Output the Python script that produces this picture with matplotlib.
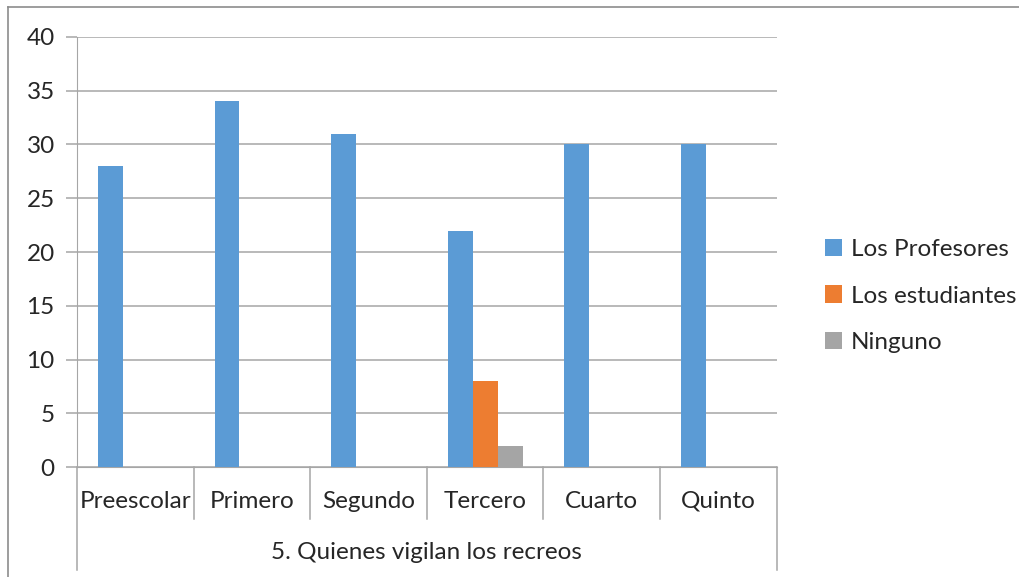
import numpy as np
import matplotlib.pyplot as plt
from matplotlib.lines import Line2D

categorias = ['Preescolar', 'Primero', 'Segundo', 'Tercero', 'Cuarto', 'Quinto']
profesores = [28, 34, 31, 22, 30, 30]
estudiantes = [0, 0, 0, 8, 0, 0]
ninguno = [0, 0, 0, 2, 0, 0]
series = ['Los Profesores', 'Los estudiantes', 'Ninguno']
colores = ['#5B9BD5', '#ED7D31', '#A5A5A5']
titulo_grupo = '5. Quienes vigilan los recreos'
yticks = [0, 5, 10, 15, 20, 25, 30, 35, 40]

plt.rcParams['font.family'] = ['Lato', 'DejaVu Sans']
fs = 17.5
gris = '#A6A6A6'

fig = plt.figure(figsize=(10.2, 5.77), dpi=100)
ax = fig.add_axes([0.0755, 0.1906, 0.686, 0.7453])

x = np.arange(len(categorias))
w = 0.214
for i, (vals, nom, col) in enumerate(zip([profesores, estudiantes, ninguno], series, colores)):
    ax.bar(x + (i - 1) * w, vals, w, color=col, label=nom, zorder=3)

ax.set_xlim(-0.5, len(categorias) - 0.5)
ax.set_ylim(0, 40)
ax.set_yticks(yticks)
ax.yaxis.grid(True, color=gris, linewidth=1.1)
ax.set_axisbelow(True)
for s in ['top', 'right']:
    ax.spines[s].set_visible(False)
ax.spines['left'].set_color(gris)
ax.spines['bottom'].set_color(gris)
ax.tick_params(axis='y', length=8, width=1.1, color=gris, labelsize=fs, pad=8, labelcolor='#262626')
ax.set_xticks([])

# etiquetas de categoria y lineas separadoras
tr = ax.get_xaxis_transform()
for i, c in enumerate(categorias):
    ax.text(i, -0.08, c, transform=tr, ha='center', va='center', fontsize=fs, color='#262626')
for b in np.arange(0.5, len(categorias) - 0.5):
    ax.plot([b, b], [0, -0.121], transform=tr, color=gris, lw=1.1, clip_on=False)
for b in [-0.5, len(categorias) - 0.5]:
    ax.plot([b, b], [0, -0.24], transform=tr, color=gris, lw=1.1, clip_on=False)
ax.text((len(categorias) - 1) / 2, -0.198, titulo_grupo, transform=tr, ha='center', va='center',
        fontsize=fs, color='#262626')

leg = ax.legend(loc='center left', bbox_to_anchor=(0.809, 0.487), bbox_transform=fig.transFigure,
                frameon=False, fontsize=fs, handlelength=0.7, handleheight=0.7,
                handletextpad=0.35, labelspacing=1.05, borderaxespad=0, borderpad=0)
for t in leg.get_texts():
    t.set_color('#262626')

# borde exterior del grafico
fig.add_artist(Line2D([8 / 1020, 1], [1 - 7 / 577, 1 - 7 / 577], color='#8C8C8C', lw=1.2))
fig.add_artist(Line2D([8 / 1020, 8 / 1020], [0, 1 - 7 / 577], color='#8C8C8C', lw=1.2))

fig.savefig('out.png', dpi=100)
